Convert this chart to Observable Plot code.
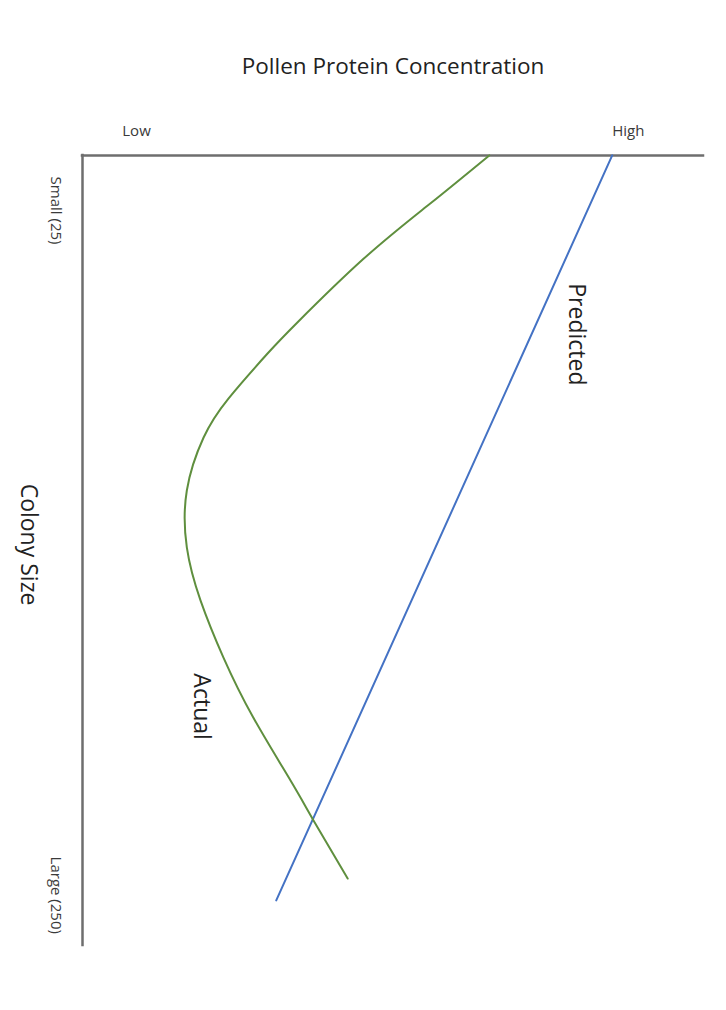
<!DOCTYPE html>
<html>
<head>
<meta charset="utf-8">
<script src="https://cdn.jsdelivr.net/npm/d3@7"></script>
<script src="https://cdn.jsdelivr.net/npm/@observablehq/plot@0.6"></script>
<style>
  html, body { margin: 0; padding: 0; background: #fff; }
  #chart svg { display: block; }
</style>
</head>
<body>
<div id="chart"></div>
<script>
// Protein concentration (0 = low end of axis, 100 = high end) vs colony size
const actualSize    = [6.9, 22.7, 40.8, 61.8, 72.0, 86.8, 99.6, 117.0, 135.7, 153.1, 171.9, 191.6, 212.3, 225.4, 244.5];
const actualProtein = [65.5, 56.0, 45.3, 34.6, 29.8, 23.5, 19.5, 16.8, 16.8, 19.0, 22.7, 27.5, 33.5, 37.2, 42.7];

const predictedSize    = [6.9, 251.7];
const predictedProtein = [85.3, 31.2];

const xTickValues = [8.7, 87.9];
const xTickLabels = ["Low", "High"];
const yTickValues = [25, 250];
const yTickLabels = ["Small (25)", "Large (250)"];

const seriesNames   = ["Predicted", "Actual"];
const seriesLabelX  = [79.5, 19.2];
const seriesLabelY  = [65.7, 188.0];

const title  = "Pollen Protein Concentration";
const yTitle = "Colony Size";

const actual = actualSize.map((s, i) => ({size: s, protein: actualProtein[i]}));
const predicted = predictedSize.map((s, i) => ({size: s, protein: predictedProtein[i]}));
const xTicks = xTickValues.map((v, i) => ({v, label: xTickLabels[i]}));
const yTicks = yTickValues.map((v, i) => ({v, label: yTickLabels[i]}));
const seriesLabels = seriesNames.map((n, i) => ({name: n, x: seriesLabelX[i], y: seriesLabelY[i]}));

const xMin = 0, xMax = 100, yMin = 6.93, yMax = 266.5;
const textColor = "#3a3a3a";
const font = "'Open Sans', 'Noto Sans', sans-serif";

const chart = Plot.plot({
  width: 726,
  height: 1010,
  marginTop: 155,
  marginLeft: 82,
  marginRight: 23,
  marginBottom: 65,
  style: {fontFamily: font, background: "#fff"},
  x: {domain: [xMin, xMax], axis: null},
  y: {domain: [yMin, yMax], reverse: true, axis: null},
  marks: [
    Plot.ruleY([yMin], {stroke: "#6e6e6e", strokeWidth: 2.5, strokeLinecap: "square"}),
    Plot.ruleX([xMin], {stroke: "#6e6e6e", strokeWidth: 2.5, strokeLinecap: "square"}),
    Plot.line(predicted, {x: "protein", y: "size", stroke: "#4472C4", strokeWidth: 2}),
    Plot.line(actual, {x: "protein", y: "size", stroke: "#5f8f3e", strokeWidth: 2, curve: "natural"}),
    Plot.text(xTicks, {x: "v", y: () => yMin, text: "label", dy: -24, fontSize: 15, fill: textColor, lineAnchor: "middle", textAnchor: "middle"}),
    Plot.text(yTicks, {x: () => xMin, y: "v", text: "label", dx: -27, rotate: 90, fontSize: 15, fill: textColor, lineAnchor: "middle", textAnchor: "middle", letterSpacing: 1.2}),
    Plot.text(seriesLabels, {x: "x", y: "y", text: "name", rotate: 90, fontSize: 23, fill: "#222", lineAnchor: "middle", textAnchor: "middle"}),
    Plot.text([title], {frameAnchor: "top", text: d => d, dy: -89, fontSize: 22.5, fill: "#222", lineAnchor: "middle", textAnchor: "middle"}),
    Plot.text([yTitle], {frameAnchor: "left", text: d => d, dx: -54, dy: -6, rotate: 90, fontSize: 23, fill: "#222", lineAnchor: "middle", textAnchor: "middle"})
  ]
});
document.getElementById("chart").appendChild(chart);
</script>
</body>
</html>
